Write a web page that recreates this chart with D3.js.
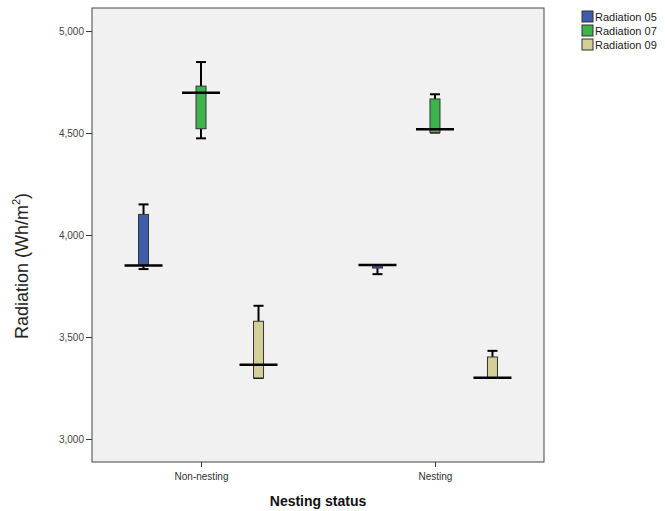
<!DOCTYPE html>
<html>
<head>
<meta charset="utf-8">
<script src="https://cdn.jsdelivr.net/npm/d3@7"></script>
<style>
	body { margin: 0; background: #fff; }
	svg text { font-family: "Liberation Sans", Arial, sans-serif; }
</style>
</head>
<body>
<div id="chart"></div>
<script>
// groups on the x axis and the three series
var categories = ['Non-nesting', 'Nesting'];
var seriesNames = ['Radiation 05', 'Radiation 07', 'Radiation 09'];
var seriesColors = ['#3f5bab', '#3cb44b', '#d4cf98'];
var yTicks = [3000, 3500, 4000, 4500, 5000];

// box stats per series: [min, q1, median, q3, max], one row per category
var radiation05 = [[3833, 3850, 3851, 4101, 4150], [3808, 3838, 3853, 3853, 3853]];
var radiation07 = [[4474, 4521, 4698, 4730, 4848], [4502, 4502, 4518, 4667, 4690]];
var radiation09 = [[3299, 3299, 3364, 3577, 3653], [3300, 3300, 3300, 3402, 3432]];

var width = 665,
	height = 511,
	margin = { top: 8, right: 121, bottom: 49, left: 92 };

var drawWidth = width - margin.left - margin.right,
	drawHeight = height - margin.top - margin.bottom;

var svg = d3.select('#chart').append('svg')
	.attr('width', width)
	.attr('height', height);

var xScale = d3.scalePoint()
	.domain(categories)
	.range([0, drawWidth])
	.padding(0.466);

var offset = d3.scalePoint()
	.domain(seriesNames)
	.range([-57.5, 57.5]);

var yScale = d3.scaleLinear()
	.domain([2887, 5113])
	.range([drawHeight, 0]);

var g = svg.append('g')
	.attr('transform', 'translate(' + margin.left + ',' + margin.top + ')');

g.append('rect')
	.attr('width', drawWidth)
	.attr('height', drawHeight)
	.attr('fill', '#f0f1f0')
	.attr('stroke', '#444')
	.attr('stroke-width', 1);

// axes
var yAxis = d3.axisLeft(yScale)
	.tickValues(yTicks)
	.tickSize(6)
	.tickPadding(2)
	.tickFormat(d3.format(','));

var yAxisG = g.append('g').call(yAxis);
yAxisG.select('.domain').remove();
yAxisG.selectAll('line').attr('stroke', '#333');
yAxisG.selectAll('text').attr('font-size', 10).attr('fill', '#444');

var xAxisG = g.append('g')
	.attr('transform', 'translate(0,' + drawHeight + ')')
	.call(d3.axisBottom(xScale).tickSize(5).tickPadding(6));
xAxisG.select('.domain').remove();
xAxisG.selectAll('line').attr('stroke', '#333');
xAxisG.selectAll('text').attr('font-size', 10).attr('fill', '#333');

// boxes
var series = [radiation05, radiation07, radiation09];
var boxes = [];
series.forEach(function(rows, si) {
	rows.forEach(function(s, ci) {
		boxes.push({ cat: categories[ci], name: seriesNames[si], color: seriesColors[si], s: s });
	});
});

var boxW = 10, medW = 38, capW = 10;

var bg = g.selectAll('.box').data(boxes).enter().append('g')
	.attr('class', 'box')
	.attr('transform', (d) => 'translate(' + (xScale(d.cat) + offset(d.name)) + ',0)');

// whiskers
bg.append('line')
	.attr('y1', (d) => yScale(d.s[3]))
	.attr('y2', (d) => yScale(d.s[4]))
	.attr('stroke', '#000').attr('stroke-width', 2);
bg.append('line')
	.attr('y1', (d) => yScale(d.s[1]))
	.attr('y2', (d) => yScale(d.s[0]))
	.attr('stroke', '#000').attr('stroke-width', 2);
bg.append('line')
	.attr('x1', -capW / 2).attr('x2', capW / 2)
	.attr('y1', (d) => yScale(d.s[4])).attr('y2', (d) => yScale(d.s[4]))
	.attr('stroke', '#000').attr('stroke-width', 2);
bg.append('line')
	.attr('x1', -capW / 2).attr('x2', capW / 2)
	.attr('y1', (d) => yScale(d.s[0])).attr('y2', (d) => yScale(d.s[0]))
	.attr('stroke', '#000').attr('stroke-width', 2);

bg.append('rect')
	.attr('x', -boxW / 2)
	.attr('width', boxW)
	.attr('y', (d) => yScale(d.s[3]))
	.attr('height', (d) => Math.max(0.5, yScale(d.s[1]) - yScale(d.s[3])))
	.attr('fill', (d) => d.color)
	.attr('stroke', '#333')
	.attr('stroke-width', 1);

bg.append('line')
	.attr('x1', -medW / 2).attr('x2', medW / 2)
	.attr('y1', (d) => yScale(d.s[2])).attr('y2', (d) => yScale(d.s[2]))
	.attr('stroke', '#000').attr('stroke-width', 2.5);

// axis titles
svg.append('text')
	.attr('transform', 'translate(28,' + 266 + ') rotate(-90)')
	.attr('text-anchor', 'middle')
	.attr('font-size', 18)
	.attr('fill', '#222')
	.call(function(t) {
		t.append('tspan').text('Radiation (Wh/m');
		t.append('tspan').attr('font-size', 11).attr('dy', -8).text('2');
		t.append('tspan').attr('dy', 8).text(')');
	});

svg.append('text')
	.attr('x', margin.left + drawWidth / 2)
	.attr('y', 506)
	.attr('text-anchor', 'middle')
	.attr('font-size', 14)
	.attr('font-weight', 'bold')
	.attr('fill', '#111')
	.text('Nesting status');

// legend
var legend = svg.selectAll('.legend').data(seriesNames).enter().append('g')
	.attr('class', 'legend')
	.attr('transform', (d, i) => 'translate(582,' + (11 + i * 14) + ')');

legend.append('rect')
	.attr('width', 11).attr('height', 11)
	.attr('fill', (d, i) => seriesColors[i])
	.attr('stroke', '#333').attr('stroke-width', 1);

legend.append('text')
	.attr('x', 13).attr('y', 10)
	.attr('font-size', 11)
	.attr('fill', '#222')
	.text((d) => d);
</script>
</body>
</html>
